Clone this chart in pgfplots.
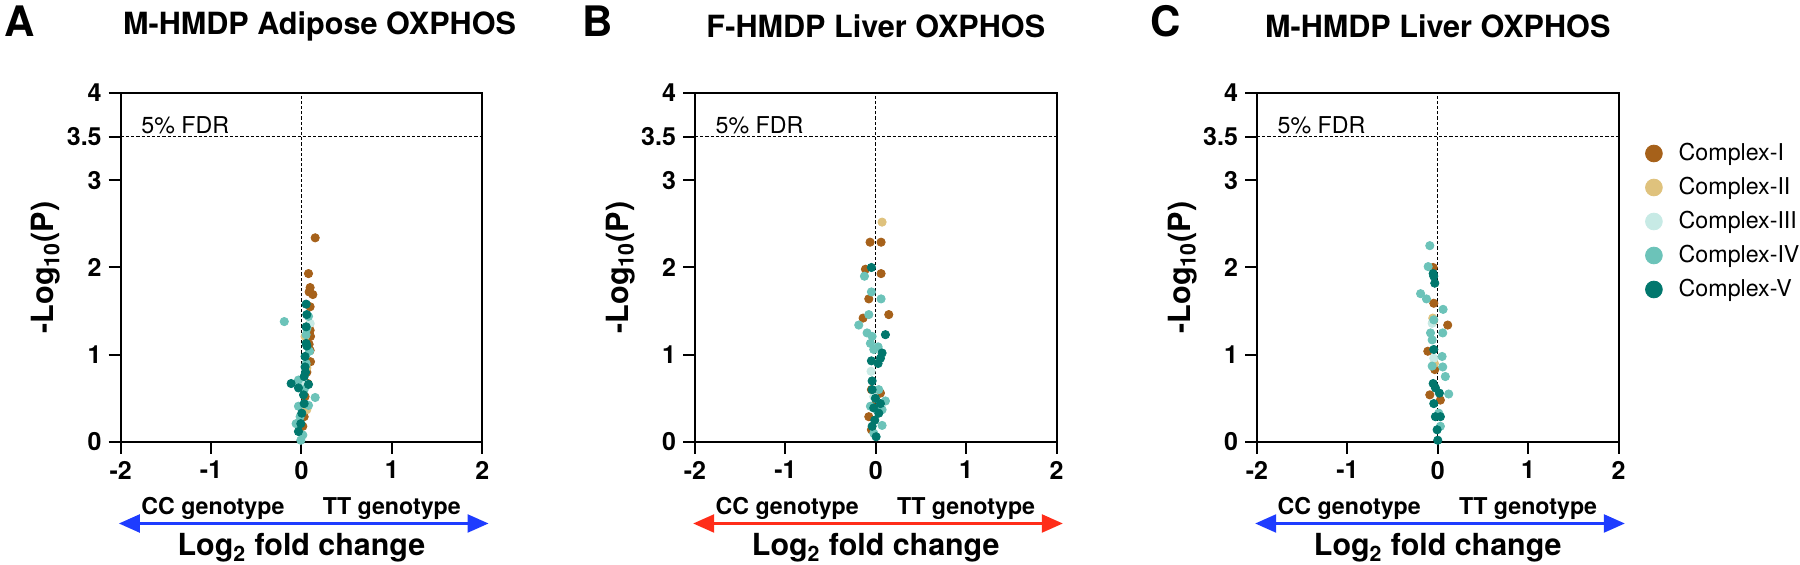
\documentclass[border=0pt]{standalone}
\usepackage{fontspec}
\setmainfont{TeX Gyre Heros}
\usepackage{pgfplots}
\pgfplotsset{compat=1.18}
\usetikzlibrary{arrows.meta}
\definecolor{cI}{HTML}{A6611A}
\definecolor{cII}{HTML}{DFC27D}
\definecolor{cIII}{HTML}{C7EAE5}
\definecolor{cIV}{HTML}{6CC3B9}
\definecolor{cV}{HTML}{01776D}
\definecolor{arrblue}{RGB}{30,60,255}
\definecolor{arrred}{RGB}{255,45,25}
\pgfplotsset{
  volc/.style={
    scale only axis, width=180.75pt, height=174.5pt,
    xmin=-2, xmax=2, ymin=0, ymax=4,
    xtick={-2,-1,0,1,2}, xticklabels={-2,-1,0,1,2},
    ytick={0,1,2,3,3.5,4}, yticklabels={0,1,2,3,3.5,4},
    tick align=outside, tick pos=left, major tick length=6pt,
    every tick/.style={line width=1pt, black},
    axis line style={line width=1pt},
    ticklabel style={font=\fontsize{12.5}{13}\selectfont\bfseries},
    clip=false,
    title style={at={(axis description cs:0.5,1.1576)}, anchor=center, font=\fontsize{15.3}{18}\selectfont\bfseries},
    ylabel={-Log\textsubscript{10}(P)},
    ylabel style={at={(axis description cs:-0.2067,0.5)}, anchor=center, font=\fontsize{15.3}{18}\selectfont\bfseries},
    xlabel={Log\textsubscript{2} fold change},
    xlabel style={at={(axis description cs:0.5,-0.3266)}, anchor=base, font=\fontsize{15.2}{18}\selectfont\bfseries},
    legend image code/.code={\fill[##1] (0pt,0pt) circle (4.2pt);},
  },
  pI/.style={only marks, mark=*, mark size=2.07pt, color=cI, mark options={draw=none, fill=cI}},
  pII/.style={only marks, mark=*, mark size=2.07pt, color=cII, mark options={draw=none, fill=cII}},
  pIII/.style={only marks, mark=*, mark size=2.07pt, color=cIII, mark options={draw=none, fill=cIII}},
  pIV/.style={only marks, mark=*, mark size=2.07pt, color=cIV, mark options={draw=none, fill=cIV}},
  pV/.style={only marks, mark=*, mark size=2.07pt, color=cV, mark options={draw=none, fill=cV}},
}
\newcommand{\decor}[1]{%
  \draw[line width=0.55pt, dash pattern=on 1.6pt off 1pt] (axis cs:-2,3.5) -- (axis cs:2,3.5);
  \draw[line width=0.55pt, dash pattern=on 1.6pt off 1pt] (axis cs:0,0) -- (axis cs:0,4);
  \node[anchor=base west, inner sep=0pt, font=\fontsize{11.6}{12}\selectfont] at ([yshift=1.7pt]axis cs:-1.775,3.5) {5\% FDR};
  \node[anchor=base, inner sep=0pt, font=\fontsize{11.6}{12}\selectfont\bfseries] at ([yshift=-72.5pt*0.5]axis cs:-0.98,0) {CC genotype};
  \node[anchor=base, inner sep=0pt, font=\fontsize{11.6}{12}\selectfont\bfseries] at ([yshift=-72.5pt*0.5]axis cs:1.0,0) {TT genotype};
  \draw[#1, line width=1.2pt, {Triangle[length=10.5pt,width=9pt]}-{Triangle[length=10.5pt,width=9pt]}] ([yshift=-81.5pt*0.5]axis cs:-2.02,0) -- ([yshift=-81.5pt*0.5]axis cs:2.07,0);
}
\begin{document}
\begin{tikzpicture}
\path[use as bounding box] (0,0) rectangle (900pt,282.5pt);
\node[anchor=north west, inner sep=0pt, font=\fontsize{21}{24}\selectfont\bfseries] at (2pt,280pt) {A};
\node[anchor=north west, inner sep=0pt, font=\fontsize{21}{24}\selectfont\bfseries] at (291pt,280pt) {B};
\node[anchor=north west, inner sep=0pt, font=\fontsize{21}{24}\selectfont\bfseries] at (575pt,280pt) {C};

% Panel A
\begin{axis}[volc, at={(60.35pt,61.5pt)}, anchor=south west,
  title={M-HMDP Adipose OXPHOS},
  title style={at={(axis description cs:0.55,1.1576)}}]
\addplot[pI] coordinates {(0.152,2.34) (0.078,1.93) (0.096,1.77) (0.085,1.72) (0.126,1.69) (0.096,1.55) (0.09,1.35) (0.096,1.28) (0.10,1.21) (0.085,1.12) (0.096,1.05) (0.10,0.92) (0.06,0.80) (0.07,0.67) (0.04,0.52) (0.05,0.42) (0.03,0.29) (0.015,0.18)};
\addplot[pII] coordinates {(0.059,0.37) (0.04,1.21) (0.06,0.85)};
\addplot[pIII] coordinates {(0.096,1.36) (0.04,0.67)};
\addplot[pIV] coordinates {(-0.19,1.38) (0.078,1.44) (0.06,1.30) (0.052,1.23) (0.089,1.04) (0.052,0.90) (-0.033,0.71) (0.03,0.60) (0.152,0.51) (-0.033,0.41) (0.078,0.42) (-0.015,0.29) (-0.059,0.21) (0.015,0.08) (-0.007,0.02)};
\addplot[pV] coordinates {(0.052,1.58) (0.059,1.46) (0.052,1.32) (0.052,1.13) (0.06,1.10) (0.04,0.98) (0.04,0.86) (0.045,0.80) (0.03,0.75) (-0.114,0.67) (0.078,0.66) (-0.033,0.62) (0.023,0.54) (0.03,0.44) (0.004,0.33) (-0.007,0.21) (-0.033,0.12)};
\decor{arrblue}
\end{axis}

% Panel B
\begin{axis}[volc, at={(347.5pt,61.5pt)}, anchor=south west,
  title={F-HMDP Liver OXPHOS}]
\addplot[pI] coordinates {(-0.063,2.29) (0.059,2.29) (-0.114,1.98) (0.059,1.93) (-0.077,1.64) (-0.14,1.42) (0.144,1.46) (-0.048,0.60) (0.052,0.56) (-0.04,0.41) (-0.077,0.29) (-0.048,0.14)};
\addplot[pII] coordinates {(0.07,2.52)};
\addplot[pIII] coordinates {(-0.052,0.81) (-0.022,0.52)};
\addplot[pIV] coordinates {(-0.125,1.90) (-0.048,1.72) (0.059,1.64) (-0.077,1.46) (-0.188,1.34) (-0.096,1.25) (-0.04,1.21) (-0.059,1.13) (0.026,1.09) (-0.022,1.06) (0.033,0.60) (0.107,0.47) (-0.059,0.41) (0.07,0.37) (0.07,0.19) (-0.022,0.10)};
\addplot[pV] coordinates {(-0.048,2.00) (0.107,1.23) (0.07,1.02) (0.052,0.96) (-0.048,0.93) (0.026,0.90) (-0.04,0.70) (-0.04,0.60) (-0.004,0.50) (0.052,0.44) (-0.022,0.39) (0.033,0.33) (-0.011,0.25) (-0.04,0.18) (0.004,0.06)};
\decor{arrred}
\end{axis}

% Panel C
\begin{axis}[volc, at={(628.5pt,61.5pt)}, anchor=south west,
  title={M-HMDP Liver OXPHOS},
  legend style={at={(axis description cs:1.0725,0.865)}, anchor=north west, draw=none, fill=none, inner sep=0pt, row sep=4pt,
    nodes={inner sep=1pt, text height=9pt, text depth=2pt, anchor=west},
    /tikz/every odd column/.append style={column sep=7pt},
    font=\fontsize{11.6}{13}\selectfont},
  legend cell align=left]
\addplot[pI] coordinates {(-0.051,2.00) (-0.044,1.59) (0.11,1.34) (-0.051,1.38) (-0.11,1.04) (-0.033,0.83) (-0.088,0.54) (0.029,0.48)};
\addlegendentry{Complex-I}
\addplot[pII] coordinates {(-0.055,1.42) (-0.037,0.90)};
\addlegendentry{Complex-II}
\addplot[pIII] coordinates {(-0.062,1.36) (-0.044,0.96)};
\addlegendentry{Complex-III}
\addplot[pIV] coordinates {(-0.088,2.25) (-0.106,2.01) (-0.19,1.70) (-0.125,1.64) (0.059,1.52) (-0.044,1.40) (0.055,1.25) (-0.08,1.25) (-0.062,1.17) (0.048,0.98) (-0.062,0.87) (0.055,0.86) (0.084,0.75) (0.121,0.55) (0.011,0.33) (0.029,0.18)};
\addlegendentry{Complex-IV}
\addplot[pV] coordinates {(-0.051,1.93) (-0.044,1.90) (-0.033,1.82) (-0.044,1.06) (-0.051,0.67) (-0.026,0.62) (0.018,0.56) (-0.044,0.44) (-0.026,0.29) (0.029,0.29) (-0.007,0.14) (0,0.02)};
\addlegendentry{Complex-V}
\decor{arrblue}
\end{axis}
\end{tikzpicture}
\end{document}
